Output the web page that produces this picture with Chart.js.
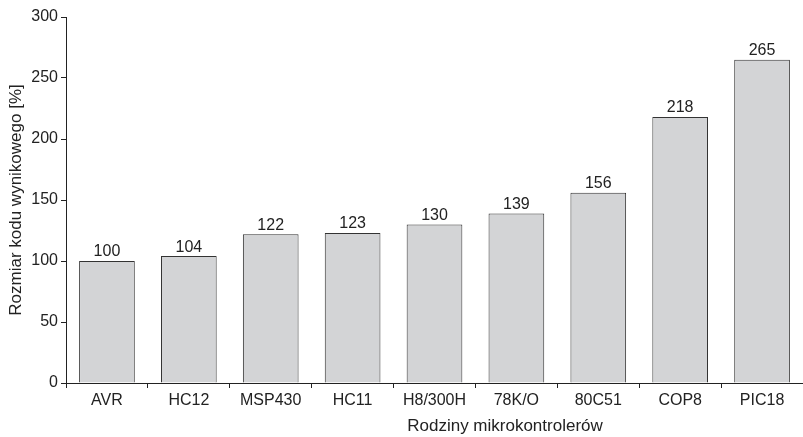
<!DOCTYPE html>
<html>
<head>
<meta charset="utf-8">
<script src="https://cdn.jsdelivr.net/npm/chart.js@4/dist/chart.umd.min.js"></script>
<style>
  html, body { margin: 0; padding: 0; background: #fff; }
  #wrap { width: 803px; height: 437px; position: relative; }
</style>
</head>
<body>
<div id="wrap"><canvas id="chart"></canvas></div>
<script>
// dane z wykresu
const categories = ['AVR', 'HC12', 'MSP430', 'HC11', 'H8/300H', '78K/O', '80C51', 'COP8', 'PIC18'];
const codeSize = [100, 104, 122, 123, 130, 139, 156, 218, 265];
const yTicks = [0, 50, 100, 150, 200, 250, 300];

const FONT = 'Liberation Sans, Arial, Helvetica, sans-serif';
const INK = '#222';

// etykiety z wartościami nad słupkami + podpis osi X (przesunięty w prawo jak w oryginale)
const valueLabels = {
    id: 'valueLabels',
    afterDatasetsDraw(chart) {
        const ctx = chart.ctx;
        const meta = chart.getDatasetMeta(0);
        ctx.save();
        ctx.font = '16px ' + FONT;
        ctx.fillStyle = INK;
        ctx.textAlign = 'center';
        ctx.textBaseline = 'bottom';
        meta.data.forEach((bar, i) => {
            ctx.fillText(String(codeSize[i]), bar.x, bar.y - 1);
        });
        // tytuł osi X
        const area = chart.chartArea;
        ctx.font = '17px ' + FONT;
        ctx.textBaseline = 'middle';
        ctx.fillText('Rodziny mikrokontrolerów', area.left + 439, area.bottom + 43);
        ctx.restore();
    }
};

new Chart(document.getElementById('chart'), {
    type: 'bar',
    data: {
        labels: categories,
        datasets: [{
            data: codeSize,
            backgroundColor: '#d3d4d6',
            borderColor: '#333',
            borderWidth: 1,
            borderSkipped: 'bottom',
            barPercentage: 0.68,
            categoryPercentage: 1
        }]
    },
    options: {
        responsive: true,
        maintainAspectRatio: false,
        animation: false,
        layout: { padding: { top: 17, right: 0, left: 0, bottom: 0 } },
        plugins: {
            legend: { display: false },
            tooltip: { enabled: false }
        },
        scales: {
            x: {
                grid: {
                    offset: true,
                    drawOnChartArea: false,
                    drawTicks: true,
                    tickLength: 5,
                    color: INK
                },
                border: { color: INK, width: 1 },
                ticks: {
                    color: INK,
                    font: { family: FONT, size: 16 },
                    padding: 3,
                    maxRotation: 0
                },
                afterFit(scale) { scale.height = 54; }
            },
            y: {
                min: 0,
                max: 300,
                afterBuildTicks(scale) { scale.ticks = yTicks.map(v => ({ value: v })); },
                grid: {
                    drawOnChartArea: false,
                    drawTicks: true,
                    tickLength: 5,
                    color: INK
                },
                border: { color: INK, width: 1 },
                ticks: {
                    color: INK,
                    font: { family: FONT, size: 16 },
                    padding: 3
                },
                title: {
                    display: true,
                    text: 'Rozmiar kodu wynikowego [%]',
                    color: INK,
                    font: { family: FONT, size: 17 },
                    padding: { top: 6, bottom: 2 }
                },
                afterFit(scale) { scale.width = 66; }
            }
        }
    },
    plugins: [valueLabels]
});
</script>
</body>
</html>
